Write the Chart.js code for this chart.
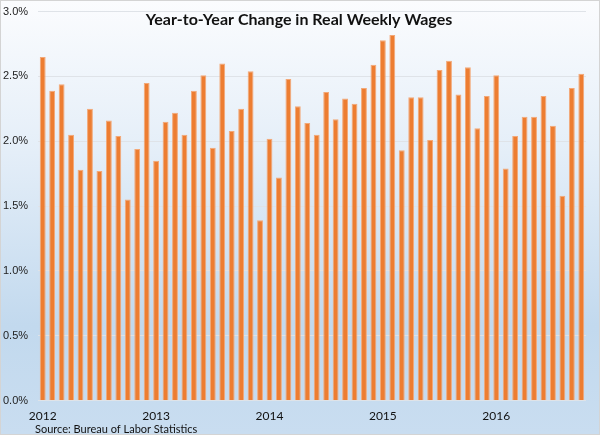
<!DOCTYPE html>
<html>
<head>
<meta charset="utf-8">
<script src="https://cdn.jsdelivr.net/npm/chart.js@4.4.1/dist/chart.umd.min.js"></script>
<style>
  html, body { margin: 0; padding: 0; }
  #wrap {
    width: 598px;
    height: 433px;
    border: 1px solid #d4d4d4;
    background: linear-gradient(to bottom, #fbfcfe 0%, #e4eef8 35%, #c2d9ee 75%, #c9ddf0 100%);
  }
</style>
</head>
<body>
<div id="wrap"><canvas id="wagesChart" width="598" height="433"></canvas></div>
<script>
const years = ["2012", "2013", "2014", "2015", "2016"];
const months = ["Jan", "Feb", "Mar", "Apr", "May", "Jun", "Jul", "Aug", "Sep", "Oct", "Nov", "Dec"];

// Jan 2012 - Oct 2016, percent
const wageChange = [
  2.65, 2.39, 2.44, 2.05, 1.78, 2.25, 1.77, 2.16, 2.04, 1.55, 1.94, 2.45,
  1.85, 2.15, 2.22, 2.05, 2.39, 2.51, 1.95, 2.60, 2.08, 2.25, 2.54, 1.39,
  2.02, 1.72, 2.48, 2.27, 2.14, 2.05, 2.38, 2.17, 2.33, 2.29, 2.41, 2.59,
  2.78, 2.82, 1.93, 2.34, 2.34, 2.01, 2.55, 2.62, 2.36, 2.57, 2.10, 2.35,
  2.51, 1.79, 2.04, 2.19, 2.19, 2.35, 2.12, 1.58, 2.41, 2.52,
];

const yTicks = [0, 0.5, 1.0, 1.5, 2.0, 2.5, 3.0];

const labels = wageChange.map((_, i) => months[i % 12] + " " + years[Math.floor(i / 12)]);

const textPlugin = {
  id: "chartText",
  afterDraw(chart) {
    const ctx = chart.ctx;
    ctx.save();
    ctx.fillStyle = "#111111";
    ctx.font = "bold 16px Lato, 'Open Sans', sans-serif";
    ctx.textAlign = "center";
    ctx.textBaseline = "middle";
    ctx.fillText("Year-to-Year Change in Real Weekly Wages", 298, 19);
    ctx.font = "11px Lato, 'Open Sans', sans-serif";
    ctx.textAlign = "left";
    ctx.fillText("Source: Bureau of Labor Statistics", 34, 428);
    ctx.restore();
  },
};

const config = {
  type: "bar",
  data: {
    labels,
    datasets: [
      {
        label: "Real weekly wages, YoY change",
        data: wageChange,
        backgroundColor: "#ed7d31",
        borderColor: "#f3a877",
        borderWidth: 1,
        barPercentage: 0.62,
        categoryPercentage: 1.0,
      },
    ],
  },
  options: {
    responsive: false,
    animation: false,
    layout: { padding: { top: 2, right: 13, bottom: 11, left: 2 } },
    plugins: {
      legend: { display: false },
      title: { display: false },
      tooltip: { enabled: false },
    },
    scales: {
      x: {
        grid: { display: false },
        border: { display: false },
        ticks: {
          autoSkip: false,
          maxRotation: 0,
          padding: 0,
          color: "#111111",
          font: { size: 12, family: "Lato" },
          callback: (value, index) => (index % 12 === 0 ? years[index / 12] : ""),
        },
      },
      y: {
        min: 0,
        max: 3.0,
        afterFit: (axis) => { axis.width = 35; },
        afterBuildTicks: (axis) => { axis.ticks = yTicks.map((v) => ({ value: v })); },
        grid: { color: "#dfe3e8", lineWidth: 1, drawTicks: false },
        border: { display: false },
        ticks: {
          align: "center",
          crossAlign: "far",
          padding: 4,
          color: "#222222",
          font: { size: 11, family: "Liberation Sans" },
          callback: (value) => value.toFixed(1) + "%",
        },
      },
    },
  },
  plugins: [textPlugin],
};

new Chart(document.getElementById("wagesChart"), config);
</script>
</body>
</html>
